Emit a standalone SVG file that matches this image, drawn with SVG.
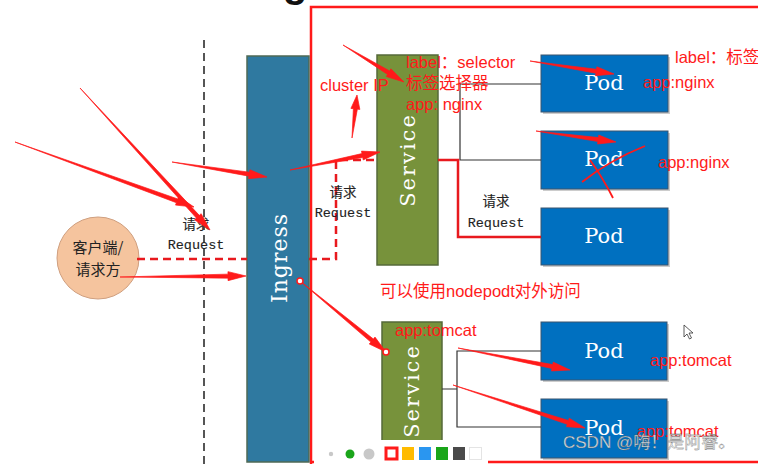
<svg xmlns="http://www.w3.org/2000/svg" width="758" height="464" viewBox="0 0 758 464">
<defs>
<style>
.ann{font-family:"Liberation Sans","Noto Sans CJK SC",sans-serif;font-size:16.5px;fill:#ff1a1a}
.req{font-family:"Liberation Mono","Noto Sans CJK SC",monospace;font-size:13.5px;fill:#222;text-anchor:middle;stroke:#222;stroke-width:0.12}
.big{font-family:"DejaVu Serif","Liberation Serif",serif;fill:#fff;text-anchor:middle;dominant-baseline:central}
.pod rect.b{fill:#0070c0;stroke:#3b556e;stroke-width:1}
.pod rect.s{fill:#9a9a9a;opacity:.5}
.svc rect{fill:#77923b;stroke:#55693a;stroke-width:1.5}
.arr{fill:#ff1a1a;stroke:#ff1a1a;stroke-width:0.7;stroke-linejoin:round}
.blk{stroke:#333;stroke-width:1.2;fill:none}
.rd{stroke:#e8191e;stroke-width:2.5;fill:none;stroke-dasharray:8 5}
</style>
</defs>
<rect width="758" height="464" fill="#fff"/>
<text x="283" y="-3" font-family="Liberation Sans,sans-serif" font-weight="bold" font-size="40" fill="#111">g</text>

<!-- cluster boundary -->
<path d="M311,464 V7 H758" fill="none" stroke="#ff1a1a" stroke-width="2.5"/>
<path d="M311,462 H758" fill="none" stroke="#ff1a1a" stroke-width="2.5"/>

<!-- gray dashed boundary -->
<line x1="204" y1="40" x2="204" y2="464" stroke="#555" stroke-width="2" stroke-dasharray="8 5"/>

<g id="client">
<circle cx="98" cy="258" r="41" fill="#f5c49e" stroke="#cf9f7f" stroke-width="1"/>
<text x="98" y="253" font-family="Noto Sans CJK SC,sans-serif" font-size="15" fill="#222" text-anchor="middle">客户端/</text>
<text x="98" y="275" font-family="Noto Sans CJK SC,sans-serif" font-size="15" fill="#222" text-anchor="middle">请求方</text>
</g>

<g id="ingress">
<rect x="247" y="56" width="62" height="406" fill="#2f79a0" stroke="#4f6a55" stroke-width="1.5"/>
<text class="big" transform="translate(279,258) rotate(-90)" font-size="22" letter-spacing="1">Ingress</text>
</g>

<g id="service1" class="svc">
<rect x="377" y="55" width="61" height="210"/>
<text class="big" transform="translate(408,160) rotate(-90)" font-size="21" letter-spacing="2">Service</text>
</g>
<g id="service2" class="svc">
<rect x="382" y="322" width="60" height="150"/>
<text class="big" transform="translate(412,391) rotate(-90)" font-size="21" letter-spacing="2">Service</text>
</g>

<g id="pod1" class="pod"><rect class="s" x="543" y="57" width="127" height="57"/><rect class="b" x="541" y="55" width="127" height="57"/><text class="big" x="604" y="83" font-size="21">Pod</text></g>
<g id="pod2" class="pod"><rect class="s" x="543" y="133" width="127" height="58"/><rect class="b" x="541" y="131" width="127" height="58"/><text class="big" x="604" y="159" font-size="21">Pod</text></g>
<g id="pod3" class="pod"><rect class="s" x="543" y="210" width="127" height="57"/><rect class="b" x="541" y="208" width="127" height="57"/><text class="big" x="604" y="236" font-size="21">Pod</text></g>
<g id="pod4" class="pod"><rect class="s" x="543" y="324" width="126" height="58"/><rect class="b" x="541" y="322" width="126" height="58"/><text class="big" x="604" y="351" font-size="21">Pod</text></g>
<g id="pod5" class="pod"><rect class="s" x="543" y="401" width="126" height="59"/><rect class="b" x="541" y="399" width="126" height="59"/><text class="big" x="604" y="428" font-size="21">Pod</text></g>

<g id="connectors">
<path class="blk" d="M541,84 H460 V160 H541"/>
<path d="M438,160 H458 V237 H541" fill="none" stroke="#e8191e" stroke-width="2.5"/>
<path class="blk" d="M442,389 H457 M541,351 H457 V427 H541"/>
<path class="rd" d="M137,259 H247"/>
<path class="rd" d="M309,259 H336 V160 H377"/>
</g>

<text class="req" x="196" y="229">请求</text>
<text class="req" x="196" y="249">Request</text>
<text class="req" x="343" y="197">请求</text>
<text class="req" x="343" y="217">Request</text>
<text class="req" x="496" y="206">请求</text>
<text class="req" x="496" y="227">Request</text>

<!-- annotations -->
<g id="annotations">
<text class="ann" x="320" y="91">cluster IP</text>
<text class="ann" x="406" y="68">label：selector</text>
<text class="ann" x="406" y="89">标签选择器</text>
<text class="ann" x="406" y="110">app: nginx</text>
<text class="ann" x="675" y="63">label：标签</text>
<text class="ann" x="643" y="88">app:nginx</text>
<text class="ann" x="658" y="168">app:nginx</text>
<text class="ann" x="380" y="297">可以使用nodepodt对外访问</text>
<text class="ann" x="395" y="336">app:tomcat</text>
<text class="ann" x="650" y="366">app:tomcat</text>
<text class="ann" x="637" y="437">app:tomcat</text>
<polygon class="arr" points="15,142 176.40,202.73 175.54,205.08 194,207 178.62,196.62 177.76,198.97"/>
<polygon class="arr" points="80,88 196.36,218.07 194.52,219.76 210,230 201.16,213.68 199.32,215.37"/>
<polygon class="arr" points="172,162 248.91,176.17 248.52,178.63 267,177 249.92,169.75 249.53,172.21"/>
<polygon class="arr" points="120,277 228.02,278.14 228.04,280.64 246,276 227.96,271.64 227.98,274.14"/>
<polygon class="arr" points="290,170 362.74,157.49 363.23,159.94 380,152 361.47,151.12 361.96,153.57"/>
<polygon class="arr" points="352,138 357.37,109.14 359.85,109.43 357,95 350.91,108.39 353.39,108.68"/>
<polygon class="arr" points="343,45 387.57,74.38 386.28,76.52 404,82 390.94,68.82 389.65,70.96"/>
<polygon class="arr" points="530,61 595.90,73.23 595.52,75.70 614,74 596.90,66.80 596.52,69.27"/>
<polygon class="arr" points="536,131 597.90,141.53 597.56,144.01 616,142 598.78,135.09 598.44,137.57"/>
<polygon class="arr" points="300,281 370.85,342.08 369.25,344.01 386,352 374.99,337.07 373.39,339.00"/>
<polygon class="arr" points="458,348 551.95,368.49 551.47,370.95 570,370 553.21,362.11 552.73,364.57"/>
<polygon class="arr" points="453,385 567.27,424.33 566.50,426.71 585,428 569.28,418.15 568.51,420.53"/>
<path d="M582,182 Q610,160 645,146" fill="none" stroke="#ff1a1a" stroke-width="1.8"/>
<path d="M590,160 Q603,178 613,198" fill="none" stroke="#ff1a1a" stroke-width="1.8"/>
<circle cx="300" cy="281" r="3" fill="#fff" stroke="#ff1a1a" stroke-width="1.5"/>
<circle cx="386" cy="352" r="3" fill="#fff" stroke="#ff1a1a" stroke-width="1.5"/>
</g>

<!-- toolbar -->
<g id="toolbar">
<rect x="314" y="440" width="174" height="24" fill="#fff"/>
<circle cx="331" cy="454" r="2.2" fill="#c8c8c8"/>
<circle cx="350" cy="454" r="4.5" fill="#1aa51a"/>
<circle cx="369" cy="454" r="5.5" fill="#c8c8c8"/>
<rect x="386" y="448" width="11" height="11" fill="#fff" stroke="#ff1a1a" stroke-width="3"/>
<rect x="402" y="447" width="12" height="13" fill="#ffbb00"/>
<rect x="419" y="447" width="12" height="13" fill="#2a96f0"/>
<rect x="436" y="447" width="12" height="13" fill="#1aa51a"/>
<rect x="453" y="447" width="12" height="13" fill="#4a4a4a"/>
<rect x="469.5" y="447.5" width="12" height="12" fill="#fff" stroke="#e4e4e4"/>
</g>

<path d="M684,325 v12 l3,-3 l2.5,5 l2,-1 l-2.5,-5 h4 z" fill="#fff" stroke="#333" stroke-width="0.8"/>

<text x="563" y="448" font-family="Liberation Sans,Noto Sans CJK SC,sans-serif" font-size="17" fill="#e6e6e6" stroke="#555" stroke-width="0.3" opacity="0.9">CSDN @嗨！是阿睿。</text>
</svg>
